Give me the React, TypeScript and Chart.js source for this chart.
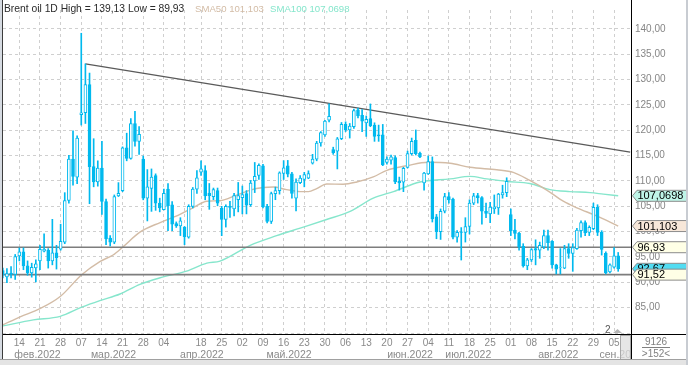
import React, { useEffect, useRef } from 'react';
import { Chart, registerables } from 'chart.js';

Chart.register(...registerables);

// ---- Data (index 0 = 08 Feb 2022, daily candles, Good Friday absent) ----
const OPEN = [
  92.3, 91.08, 91.85, 91.54, 95.19, 96.02, 93.26, 91.85, 92.85, 94.23,
  96.15, 96.34, 94.23, 95.83, 96.53, 97.94, 106.15, 114.29, 110.76, 123.07,
  123.46, 129.03, 112.81, 109.8, 112.56, 105.95, 98.71, 97.94, 107.04, 108.07,
  116.53, 114.42, 121.34, 117.81, 114.29, 106.6, 108.52, 111.08, 105.63, 104.35,
  108.39, 105.31, 101.6, 101.15, 100.83, 98.9, 104.99, 108.39, 111.73, 112.05,
  107.6, 106.9, 108.1, 104.6, 102.4, 105.0, 104.48, 106.3, 106.7, 107.5,
  105.3, 110.0, 111.1, 113.0, 105.0, 102.0, 107.5, 108.1, 111.5, 113.0,
  111.4, 106.6, 109.67, 110.3, 110.57, 113.52, 114.29, 117.49, 119.1, 121.98,
  116.21, 115.89, 118.33, 121.15, 120.06, 120.7, 124.03, 122.94, 121.47, 122.3,
  121.02, 119.1, 119.1, 113.65, 114.1, 114.6, 109.93, 109.74, 112.69, 115.38,
  118.0, 115.44, 109.61, 111.4, 113.84, 102.9, 100.0, 104.03, 106.9, 106.4,
  98.9, 99.95, 99.86, 101.02, 105.63, 107.1, 106.73, 104.03, 103.52, 104.48,
  104.67, 107.24, 107.69, 103.39, 100.3, 99.67, 97.11, 93.26, 94.42, 96.66,
  96.34, 96.98, 99.22, 98.07, 93.45, 92.94, 92.81, 96.66, 95.7, 96.66,
  100.19, 101.79, 99.86, 100.6, 104.8, 99.86, 95.7, 92.04, 93.0, 95.25,
];
const HIGH = [
  92.81, 92.69, 93.13, 95.5, 96.79, 96.79, 94.23, 93.78, 94.42, 97.3,
  99.55, 96.66, 102.43, 97.3, 101.47, 107.69, 115.06, 119.87, 118.9, 139.13,
  133.1, 131.28, 118.33, 113.97, 117.81, 106.4, 99.22, 107.24, 109.67, 116.72,
  119.42, 122.3, 123.71, 120.7, 114.93, 112.24, 112.37, 111.4, 106.6, 108.39,
  109.48, 105.95, 101.92, 102.75, 101.02, 105.31, 108.71, 112.05, 113.97, 113.01,
  109.5, 108.6, 108.6, 105.0, 105.3, 106.0, 107.56, 109.7, 109.0, 108.1,
  110.1, 113.65, 113.4, 113.3, 105.4, 107.8, 108.8, 111.8, 114.0, 114.05,
  111.7, 110.4, 111.08, 111.7, 112.0, 115.25, 117.81, 119.74, 121.98, 125.19,
  116.66, 118.58, 121.53, 121.66, 121.34, 124.2, 124.35, 124.1, 122.82, 125.19,
  121.47, 121.02, 121.15, 114.74, 115.12, 114.93, 110.76, 112.69, 115.89, 118.46,
  120.06, 115.7, 111.72, 114.93, 114.74, 103.4, 104.48, 107.56, 107.69, 106.6,
  100.19, 100.8, 102.75, 106.28, 107.56, 107.56, 106.92, 105.63, 105.76, 107.24,
  107.56, 109.16, 110.63, 104.48, 102.43, 99.86, 97.62, 94.74, 96.66, 98.39,
  97.94, 100.32, 100.32, 98.26, 93.58, 96.66, 97.3, 97.62, 97.62, 100.64,
  102.11, 102.11, 101.15, 105.63, 105.31, 100.19, 96.02, 93.65, 96.85, 95.89,
];
const LOW = [
  90.89, 89.93, 90.89, 90.57, 94.23, 92.49, 91.4, 91.02, 90.06, 92.49,
  96.02, 92.81, 93.45, 92.62, 96.34, 97.62, 105.63, 109.16, 109.48, 121.02,
  121.34, 105.51, 108.84, 108.97, 103.39, 97.43, 97.17, 97.62, 106.92, 107.88,
  113.97, 114.29, 116.85, 115.25, 106.28, 102.11, 104.0, 104.2, 103.9, 104.3,
  100.19, 100.19, 100.83, 99.22, 97.43, 98.71, 104.67, 107.56, 111.08, 106.28,
  104.4, 106.3, 105.1, 99.2, 100.9, 102.8, 103.1, 103.9, 103.5, 103.5,
  105.0, 107.7, 110.3, 104.7, 101.7, 101.6, 106.3, 107.4, 110.3, 110.8,
  106.6, 104.1, 109.48, 108.84, 110.44, 113.33, 113.97, 116.85, 118.78, 121.66,
  115.25, 112.37, 118.14, 119.74, 118.46, 120.38, 122.43, 119.74, 118.78, 120.7,
  117.81, 117.81, 113.01, 113.33, 113.33, 109.48, 108.2, 107.88, 112.56, 115.12,
  115.12, 114.61, 108.2, 111.28, 101.9, 98.6, 98.46, 103.7, 105.63, 98.58,
  97.94, 94.4, 97.94, 99.54, 105.31, 105.63, 101.47, 102.75, 101.79, 103.58,
  103.39, 106.6, 106.9, 99.22, 98.58, 96.34, 93.0, 92.49, 94.1, 93.45,
  94.74, 96.66, 96.34, 92.81, 91.65, 91.65, 92.69, 94.74, 92.17, 96.47,
  98.9, 99.22, 99.22, 100.38, 99.22, 95.38, 91.65, 91.85, 92.81, 92.17,
];
const CLOSE = [
  91.5, 91.72, 91.6, 95.06, 96.02, 93.26, 91.85, 92.94, 93.65, 96.53,
  96.53, 94.23, 95.83, 94.87, 98.07, 106.15, 114.29, 110.89, 118.46, 123.46,
  129.03, 112.81, 109.8, 112.56, 105.95, 98.58, 97.94, 106.92, 107.56, 116.53,
  114.42, 121.34, 117.81, 119.22, 106.6, 108.84, 110.76, 105.63, 104.67, 107.56,
  105.12, 101.47, 101.15, 102.11, 99.03, 104.99, 108.39, 110.63, 112.37, 107.04,
  107.1, 108.3, 105.6, 102.4, 105.0, 104.8, 107.11, 107.1, 107.3, 105.2,
  109.6, 110.9, 113.1, 104.9, 102.0, 107.5, 108.1, 111.6, 112.6, 111.35,
  107.56, 109.8, 110.57, 111.25, 111.45, 114.29, 117.49, 119.55, 121.79, 122.75,
  115.57, 118.33, 121.15, 120.06, 120.83, 123.9, 122.82, 121.79, 122.17, 120.89,
  118.78, 118.9, 113.14, 114.29, 114.74, 109.8, 109.61, 112.5, 115.38, 117.81,
  115.38, 114.74, 111.53, 113.84, 102.5, 100.0, 104.03, 106.9, 106.28, 98.9,
  99.86, 99.86, 101.02, 105.63, 107.05, 106.7, 104.03, 103.6, 104.87, 104.87,
  107.43, 107.69, 109.93, 100.19, 99.67, 96.98, 93.26, 94.42, 96.47, 96.34,
  97.3, 99.22, 97.81, 93.45, 92.62, 93.0, 96.66, 95.7, 96.85, 100.32,
  101.79, 99.73, 100.83, 104.8, 99.86, 96.47, 91.85, 93.45, 95.25, 92.67,
];

// Moving averages (x = candle index)
const SMA50_X = [0, 4.2, 9, 13.9, 19.1, 23.5, 26.7, 29.1, 33.2, 38.1, 42.9, 46, 49.4, 52.6, 56.6, 59.9, 63.1, 65.5, 68.7, 72, 74, 76, 78.4, 82.4, 85.7, 89.7, 93, 97.8, 103, 108.3, 113.1, 119.6, 123.6, 127.6, 131.7, 135.7, 139, 143.8, 149];
const SMA50_Y = [81.6, 83.2, 84.8, 87.2, 91.5, 94.1, 95.4, 97.0, 99.9, 101.8, 103.4, 104.7, 106.0, 106.1, 107.2, 108.2, 108.7, 108.8, 108.3, 107.9, 107.9, 108.5, 109.4, 109.35, 109.8, 110.8, 112.1, 113.0, 113.7, 113.5, 112.7, 112.2, 111.7, 110.1, 108.2, 106.0, 104.7, 103.1, 101.103];
const SMA100_X = [0, 7.4, 13.9, 19.1, 23.5, 28.4, 33.2, 38.1, 44.5, 49.4, 52.6, 59.9, 66.3, 72, 78.4, 84.1, 89.7, 94.6, 101, 108.3, 113.1, 117.2, 122, 127.6, 132.5, 137.3, 142.2, 145.4, 149];
const SMA100_Y = [81.4, 82.6, 83.3, 85.1, 86.4, 87.7, 89.6, 90.9, 92.2, 93.8, 94.2, 97.3, 99.2, 100.7, 102.4, 104.0, 106.6, 107.9, 109.8, 110.4, 110.9, 110.4, 109.9, 109.5, 108.3, 107.9, 107.7, 107.4, 107.0698];

// Trend line (index, price) and horizontal levels
const TREND_X = [20, 151.9];
const TREND_Y = [133.1, 115.7];
const LEVELS = [96.93, 91.52];
const LAST_PRICE = 92.67;
const SMA50_LAST = '101,103';
const SMA100_LAST = '107,0698';

// Title groups and their x positions
const TITLE_MAIN = 'Brent oil 1D High = 139,13 Low = 89,93';
const TITLE_SMA50 = 'SMA50 ' + SMA50_LAST;
const TITLE_SMA100 = 'SMA100 ' + SMA100_LAST;
const TITLE_X = [4, 195, 270];

// Axis labels
const WEEK_IDX = [4, 9, 14, 19, 24, 29, 34, 39, 44, 48, 53, 58, 63, 68, 73, 78, 83, 88, 93, 98, 103, 108, 113, 118, 123, 128, 133, 138, 143, 148];
const WEEK_LBL = ['14', '21', '28', '07', '14', '21', '28', '04', '', '18', '25', '02', '09', '16', '23', '30', '06', '13', '20', '27', '04', '11', '18', '25', '01', '08', '15', '22', '29', '05'];
const MONTH_LBL = ['фев.2022', 'мар.2022', 'апр.2022', 'май.2022', 'июн.2022', 'июл.2022', 'авг.2022', 'сен.2022'];
const MONTH_POS = [8.4, 26.8, 48.2, 69.3, 98.6, 112.7, 134.5, 149.7];
const Y_TICKS = [80, 85, 90, 95, 100, 105, 110, 115, 120, 125, 130, 135, 140];

const X_MIN = 0.05;
const X_MAX = 152.1;
const Y_MIN = 79.81;
const Y_MAX = 143.72;

const CANDLE = '#00b9ee';
const SMA50_COLOR = '#d3bca6';
const SMA100_COLOR = '#86e6cc';
const FONT = '"Liberation Sans", Arial, sans-serif';

const fmt2 = (v: number) => v.toFixed(2).replace('.', ',');

function drawTag(ctx: CanvasRenderingContext2D, y: number, text: string, bg: string) {
  const h = 11;
  const tip = 632.5;
  const bx = 637;
  ctx.beginPath();
  ctx.moveTo(tip, y);
  ctx.lineTo(bx, y - h / 2);
  ctx.lineTo(689, y - h / 2);
  ctx.lineTo(689, y + h / 2);
  ctx.lineTo(bx, y + h / 2);
  ctx.closePath();
  ctx.fillStyle = bg;
  ctx.fill();
  ctx.strokeStyle = '#8c8c8c';
  ctx.lineWidth = 1;
  ctx.stroke();
  ctx.fillStyle = '#000';
  ctx.font = `11px ${FONT}`;
  ctx.textAlign = 'left';
  ctx.textBaseline = 'middle';
  ctx.fillText(text, bx + 0.5, y + 0.5);
}

const decor = {
  id: 'decor',
  afterDraw(chart: any) {
    const ctx: CanvasRenderingContext2D = chart.ctx;
    const { left, right, bottom } = chart.chartArea;
    const xs = chart.scales.x;
    const ys = chart.scales.y;
    ctx.save();

    // title
    ctx.textAlign = 'left';
    ctx.textBaseline = 'alphabetic';
    ctx.font = `10.3px ${FONT}`;
    ctx.fillStyle = '#2a2a2a';
    ctx.fillText(TITLE_MAIN, TITLE_X[0], 12);
    ctx.font = `9.6px ${FONT}`;
    ctx.fillStyle = SMA50_COLOR;
    ctx.fillText(TITLE_SMA50, TITLE_X[1], 12);
    ctx.fillStyle = SMA100_COLOR;
    ctx.fillText(TITLE_SMA100, TITLE_X[2], 12);

    // month labels
    ctx.save();
    ctx.beginPath();
    ctx.rect(left, bottom, right - left, 30);
    ctx.clip();
    ctx.font = `10.5px ${FONT}`;
    ctx.fillStyle = '#8a8a8a';
    ctx.textAlign = 'center';
    ctx.textBaseline = 'middle';
    MONTH_LBL.forEach((m, k) => ctx.fillText(m, xs.getPixelForValue(MONTH_POS[k]), 355.5));
    ctx.restore();

    // scroll thumb
    ctx.fillStyle = 'rgba(222,222,222,0.75)';
    ctx.fillRect(620, 335, 11, 25);
    ctx.strokeStyle = '#a8a8a8';
    ctx.strokeRect(620.5, 335.5, 10, 24);

    // "2" marker
    ctx.font = `10px ${FONT}`;
    ctx.fillStyle = '#555';
    ctx.textAlign = 'left';
    ctx.textBaseline = 'alphabetic';
    ctx.fillText('2', 605, 333);
    ctx.fillStyle = '#b5b5b5';
    ctx.beginPath();
    ctx.moveTo(613, 333);
    ctx.lineTo(617.5, 329);
    ctx.lineTo(622, 333);
    ctx.closePath();
    ctx.fill();

    // frame lines
    ctx.strokeStyle = '#000';
    ctx.lineWidth = 1;
    ctx.beginPath();
    ctx.moveTo(2, bottom + 0.5);
    ctx.lineTo(688, bottom + 0.5);
    ctx.moveTo(right + 0.5, 0);
    ctx.lineTo(right + 0.5, 360);
    ctx.stroke();

    // right-axis tags
    drawTag(ctx, ys.getPixelForValue(107.0698), SMA100_LAST, '#bff5e8');
    drawTag(ctx, ys.getPixelForValue(101.103), SMA50_LAST, '#f7e7d9');
    drawTag(ctx, ys.getPixelForValue(LEVELS[0]), fmt2(LEVELS[0]), '#ffffe6');
    drawTag(ctx, ys.getPixelForValue(LAST_PRICE), fmt2(LAST_PRICE), '#52dcf2');
    drawTag(ctx, ys.getPixelForValue(LEVELS[1]), fmt2(LEVELS[1]), '#ffffe6');

    // bottom-right info cell
    ctx.font = `10px ${FONT}`;
    ctx.fillStyle = '#808080';
    ctx.textAlign = 'center';
    ctx.textBaseline = 'alphabetic';
    ctx.fillText('9126', 656, 345);
    ctx.fillText('>152<', 656, 357);
    ctx.strokeStyle = '#808080';
    ctx.beginPath();
    ctx.moveTo(642, 347.5);
    ctx.lineTo(670, 347.5);
    ctx.stroke();

    // window frame
    ctx.fillStyle = '#d6dbe2';
    ctx.fillRect(0, 0, 2, 365);
    ctx.fillStyle = '#3c3c3c';
    ctx.fillRect(2, 0, 1, 360);
    ctx.fillStyle = '#e4e4e4';
    ctx.fillRect(0, 360, 688, 5);
    ctx.fillStyle = '#a0a0a0';
    ctx.fillRect(0, 359, 688, 1);
    ctx.fillStyle = '#c8ccd2';
    ctx.fillRect(686, 0, 2, 365);

    ctx.restore();
  },
};

export default function App() {
  const ref = useRef<HTMLCanvasElement | null>(null);

  useEffect(() => {
    if (!ref.current) return;
    const idx = OPEN.map((_, i) => i);
    const bodyBg = idx.map((i) => (CLOSE[i] >= OPEN[i] ? '#ffffff' : CANDLE));
    const chart = new Chart(ref.current, {
      type: 'line',
      data: {
        datasets: [
          {
            type: 'bar',
            label: 'body',
            data: idx.map((i) => ({ x: i, y: [OPEN[i], CLOSE[i]] })) as any,
            backgroundColor: bodyBg,
            borderColor: CANDLE,
            borderWidth: 1,
            borderSkipped: false,
            barThickness: 3,
            grouped: false,
            order: 0,
          } as any,
          {
            type: 'bar',
            label: 'wick',
            data: idx.map((i) => ({ x: i, y: [LOW[i], HIGH[i]] })) as any,
            backgroundColor: CANDLE,
            borderWidth: 0,
            barThickness: 1,
            grouped: false,
            order: 1,
          } as any,
          {
            type: 'line',
            label: 'trend',
            data: TREND_X.map((x, k) => ({ x, y: TREND_Y[k] })),
            borderColor: '#5a5a5a',
            borderWidth: 1.3,
            pointRadius: 0,
            order: 2,
          },
          ...LEVELS.map((lv) => ({
            type: 'line' as const,
            label: 'level',
            data: [{ x: X_MIN, y: lv }, { x: X_MAX, y: lv }],
            borderColor: '#7d7d7d',
            borderWidth: 1.6,
            pointRadius: 0,
            order: 3,
          })),
          {
            type: 'line',
            label: 'SMA50',
            data: SMA50_X.map((x, k) => ({ x, y: SMA50_Y[k] })),
            borderColor: SMA50_COLOR,
            borderWidth: 1.4,
            pointRadius: 0,
            cubicInterpolationMode: 'monotone',
            order: 4,
          },
          {
            type: 'line',
            label: 'SMA100',
            data: SMA100_X.map((x, k) => ({ x, y: SMA100_Y[k] })),
            borderColor: SMA100_COLOR,
            borderWidth: 1.4,
            pointRadius: 0,
            cubicInterpolationMode: 'monotone',
            order: 5,
          },
        ],
      },
      options: {
        animation: false,
        responsive: false,
        devicePixelRatio: 1,
        layout: { padding: { left: 3, top: 2, right: 0, bottom: 0 }, autoPadding: false } as any,
        plugins: { legend: { display: false }, tooltip: { enabled: false }, title: { display: false } },
        scales: {
          x: {
            type: 'linear',
            min: X_MIN,
            max: X_MAX,
            offset: false,
            position: 'bottom',
            grid: { color: '#cfcfcf', drawTicks: false, offset: false, lineWidth: 1 },
            border: { display: false, dash: [3, 3] },
            afterBuildTicks: (s: any) => {
              s.ticks = WEEK_IDX.map((v) => ({ value: v }));
            },
            afterFit: (s: any) => {
              s.height = 31;
            },
            ticks: {
              autoSkip: false,
              maxRotation: 0,
              padding: 3,
              color: '#8a8a8a',
              font: { size: 10, family: FONT },
              callback: (v: any) => {
                const k = WEEK_IDX.indexOf(Number(v));
                return k >= 0 ? WEEK_LBL[k] : '';
              },
            },
          },
          y: {
            type: 'linear',
            position: 'right',
            min: Y_MIN,
            max: Y_MAX,
            grid: { color: '#cfcfcf', drawTicks: false, lineWidth: 1 },
            border: { display: false, dash: [3, 3] },
            afterBuildTicks: (s: any) => {
              s.ticks = Y_TICKS.map((v) => ({ value: v }));
            },
            afterFit: (s: any) => {
              s.width = 57;
            },
            ticks: {
              padding: 4,
              color: '#868686',
              font: { size: 10, family: FONT },
              callback: (v: any) => (Number(v) < 84 ? '' : fmt2(Number(v))),
            },
          },
        },
      },
      plugins: [decor],
    });
    return () => chart.destroy();
  }, []);

  return (
    <div style={{ position: 'fixed', left: 0, top: 0, width: 688, height: 365, background: '#fff' }}>
      <canvas ref={ref} width={688} height={365} style={{ display: 'block' }} />
    </div>
  );
}
